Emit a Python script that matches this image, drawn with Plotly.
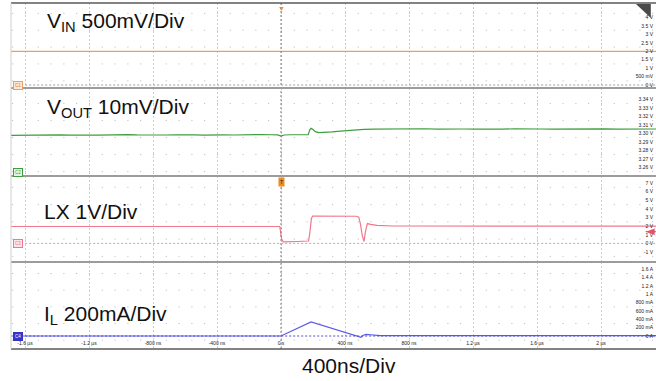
import numpy as np
import plotly.graph_objects as go
from plotly.subplots import make_subplots

# ---- waveform data (time in ns) ----
t_vin = [-1687.5, -1200, -600, 0, 600, 1200, 2343.75]
vin = [2.0, 2.0, 2.0, 2.0, 2.0, 2.0, 2.0]

t_vout = [-1687.5, -1620, -1560, -1500, -1440, -1380, -1320, -1260, -1200, -1140,
          -1080, -1020, -960, -900, -840, -780, -720, -660, -600, -540,
          -480, -420, -360, -300, -240, -180, -120, -60, -20,
          0, 20, 60, 120, 170, 180, 188, 200, 215, 235, 270,
          320, 370, 420, 470, 520, 580, 640, 700, 760, 820,
          900, 980, 1060, 1140, 1220, 1300, 1380, 1460, 1540, 1620,
          1700, 1780, 1860, 1940, 2020, 2100, 2180, 2260, 2343.75]
vout = [3.2976, 3.2979, 3.2977, 3.2981, 3.2978, 3.2982, 3.2979, 3.2983, 3.2980, 3.2978,
        3.2982, 3.2980, 3.2984, 3.2981, 3.2979, 3.2983, 3.2980, 3.2982, 3.2985, 3.2981,
        3.2979, 3.2983, 3.2982, 3.2980, 3.2984, 3.2982, 3.2985, 3.2983, 3.2981,
        3.2968, 3.2980, 3.2983, 3.2984, 3.2985, 3.3040, 3.3058, 3.3045, 3.3020, 3.3008, 3.3010,
        3.3018, 3.3027, 3.3036, 3.3042, 3.3047, 3.3050, 3.3052, 3.3046, 3.3052, 3.3051,
        3.3054, 3.3050, 3.3053, 3.3051, 3.3049, 3.3053, 3.3050, 3.3052, 3.3054, 3.3051,
        3.3049, 3.3052, 3.3055, 3.3051, 3.3053, 3.3050, 3.3052, 3.3054, 3.3051]

t_lx = [-1687.5, -600, -8, 4, 14, 100, 172, 180, 190, 198, 300,
        470, 486, 496, 508, 519, 528, 540, 560, 600, 700, 2343.75]
lx = [1.96, 1.97, 1.96, 0.5, 0.18, 0.22, 0.28, 1.2, 2.9, 3.18, 3.18,
      3.15, 3.05, 2.3, 0.9, 0.22, 1.4, 2.3, 2.2, 2.08, 2.02, 2.0]

t_il = [-1687.5, 0, 188, 500, 515, 532, 560, 620, 2343.75]
il = [0.0, 0.0, 0.34, -0.03, 0.02, 0.04, 0.03, 0.01, 0.01]

# LX trigger level (V)
lx_trigger_level = 1.36

# ---- axis ticks ----
time_ticks = [-1600, -1200, -800, -400, 0, 400, 800, 1200, 1600, 2000]
time_labels = ["-1.6 µs", "-1.2 µs", "-800 ns", "-400 ns", "0 s",
               "400 ns", "800 ns", "1.2 µs", "1.6 µs", "2 µs"]

vin_ticks = [0, 0.5, 1, 1.5, 2, 2.5, 3, 3.5, 4]
vin_labels = ["0 V", "500 mV", "1 V", "1.5 V", "2 V", "2.5 V", "3 V", "3.5 V", "4 V"]

vout_ticks = [3.26, 3.27, 3.28, 3.29, 3.30, 3.31, 3.32, 3.33, 3.34]
vout_labels = ["3.26 V", "3.27 V", "3.28 V", "3.29 V", "3.30 V",
               "3.31 V", "3.32 V", "3.33 V", "3.34 V"]

lx_ticks = [-1, 0, 1, 2, 3, 4, 5, 6, 7]
lx_labels = ["-1 V", "0 V", "1 V", "2 V", "3 V", "4 V", "5 V", "6 V", "7 V"]

il_ticks = [-0.2, 0, 0.2, 0.4, 0.6, 0.8, 1.0, 1.2, 1.4, 1.6]
il_labels = ["-200 mA", "0 A", "200 mA", "400 mA", "600 mA", "800 mA",
             "1 A", "1.2 A", "1.4 A", "1.6 A"]

# ---- styling ----
C_VIN = "#F39C5A"
C_VOUT = "#3E9E3E"
C_LX = "#F0788A"
C_IL = "#5B5BE8"
FONT = "Arial, Liberation Sans, sans-serif"

x_range = [-1687.5, 2343.75]
y_ranges = [[-0.178, 4.864], [3.2498, 3.3533], [-2.157, 7.814], [-0.312, 1.776]]
domains = [[0.7543, 1.0], [0.5, 0.7543], [0.2514, 0.5], [0.0, 0.2514]]

fig = make_subplots(rows=4, cols=1, shared_xaxes=True, vertical_spacing=0)

series = [(t_vin, vin, C_VIN), (t_vout, vout, C_VOUT), (t_lx, lx, C_LX), (t_il, il, C_IL)]
for i, (tx, vy, col) in enumerate(series, start=1):
    fig.add_trace(go.Scatter(x=tx, y=vy, mode="lines",
                             line=dict(color=col, width=1.2),
                             showlegend=False, hoverinfo="skip"), row=i, col=1)

tick_sets = [(vin_ticks, vin_labels), (vout_ticks, vout_labels),
             (lx_ticks, lx_labels), (il_ticks, il_labels)]

for i in range(4):
    xa = "xaxis" if i == 0 else f"xaxis{i + 1}"
    ya = "yaxis" if i == 0 else f"yaxis{i + 1}"
    fig.layout[xa].update(range=x_range, tickmode="array", tickvals=time_ticks,
                          ticktext=time_labels, showgrid=True, gridcolor="#cdcdcd",
                          griddash="2px,2px", gridwidth=1, zeroline=False,
                          showline=False, ticks="", showticklabels=(i == 3),
                          ticklabelposition="inside",
                          tickfont=dict(size=5, color="#222", family=FONT))
    fig.layout[ya].update(range=y_ranges[i], domain=domains[i], side="right",
                          tickmode="array", tickvals=tick_sets[i][0],
                          ticktext=tick_sets[i][1], ticklabelposition="inside",
                          showgrid=False, zeroline=False, showline=False, ticks="",
                          tickfont=dict(size=5, color="#222", family=FONT))

shapes = []

# dotted grid rows (one dot per 80 ns minor division)
grid_steps = [1.0, 0.02, 2.0, 0.4]
grid_starts = [0.25, 3.255, -1.5, -0.1]
for i in range(4):
    yref = "y" if i == 0 else f"y{i + 1}"
    for gv in np.arange(grid_starts[i], y_ranges[i][1], grid_steps[i]):
        shapes.append(dict(type="line", xref="x", yref=yref, x0=-1680, x1=x_range[1],
                           y0=gv, y1=gv, layer="below",
                           line=dict(color="#b5b5b5", width=1, dash="1px,11.8px")))

# trigger position line
shapes.append(dict(type="line", xref="x", yref="paper", x0=0, x1=0, y0=0, y1=1,
                   line=dict(color="#808080", width=1, dash="2px,2px")))

# channel ground references
for yref, col in [("y", "#9a9a9a"), ("y3", "#b0b0b0"), ("y4", "#4a4ad0")]:
    shapes.append(dict(type="line", xref="paper", yref=yref, x0=0.022, x1=1, y0=0, y1=0,
                       line=dict(color=col, width=1, dash="2px,2px")))

# panel separators and frame
for yb in [domains[0][0], domains[1][0], domains[2][0]]:
    shapes.append(dict(type="line", xref="paper", yref="paper", x0=0, x1=1, y0=yb, y1=yb,
                       line=dict(color="#9c9c9c", width=2)))
shapes.append(dict(type="line", xref="paper", yref="paper", x0=0, x1=1, y0=1, y1=1,
                   line=dict(color="#5a5a5a", width=1.5)))
shapes.append(dict(type="line", xref="paper", yref="paper", x0=0, x1=1, y0=0, y1=0,
                   line=dict(color="#5a5a5a", width=1.5)))
shapes.append(dict(type="line", xref="paper", yref="paper", x0=0, x1=0, y0=0, y1=1,
                   line=dict(color="#cfcfcf", width=1)))

# corner badge
shapes.append(dict(type="path", xref="paper", yref="paper",
                   path="M 0.969 0.997 L 0.992 0.997 L 0.992 0.957 Z",
                   fillcolor="#4a4a4a", line=dict(width=0)))

# LX trigger-level pointer on the right edge
tl = lx_trigger_level
shapes.append(dict(type="path", xref="paper", yref="y3",
                   path=f"M 0.984 {tl} L 0.998 {tl + 0.38} L 0.998 {tl - 0.38} Z",
                   fillcolor="#e8506a", line=dict(width=0)))
shapes.append(dict(type="line", xref="paper", yref="y3", x0=0.984, x1=1.0,
                   y0=tl, y1=tl, line=dict(color="#e8506a", width=1)))

fig.update_layout(shapes=shapes)

ann = []
big = dict(family=FONT, size=21, color="#111")
ann.append(dict(text="V<sub>IN</sub> 500mV/Div", xref="paper", yref="paper",
                x=0.0527, y=0.945, xanchor="left", yanchor="middle",
                showarrow=False, font=big))
ann.append(dict(text="V<sub>OUT</sub> 10mV/Div", xref="paper", yref="paper",
                x=0.0527, y=0.6965, xanchor="left", yanchor="middle",
                showarrow=False, font=big))
ann.append(dict(text="LX 1V/Div", xref="paper", yref="paper",
                x=0.048, y=0.3988, xanchor="left", yanchor="middle",
                showarrow=False, font=big))
ann.append(dict(text="I<sub>L</sub> 200mA/Div", xref="paper", yref="paper",
                x=0.048, y=0.0983, xanchor="left", yanchor="middle",
                showarrow=False, font=big))
ann.append(dict(text="400ns/Div", xref="paper", yref="paper",
                x=0.524, y=-0.049, xanchor="center", yanchor="middle",
                showarrow=False, font=big))

# channel tags
tags = [("C1", "y", 0, "#fbe6d8", C_VIN, "#e07a30"),
        ("C2", "y2", 3.2535, "#e3f3e3", C_VOUT, C_VOUT),
        ("C3", "y3", 0, "#fde4e8", C_LX, C_LX),
        ("C4", "y4", 0, "#3434c8", "#3434c8", "#ffffff")]
for name, yref, yv, bg, bc, fc in tags:
    ann.append(dict(text=name, xref="paper", yref=yref, x=0.003, y=yv,
                    xanchor="left", yanchor="middle", showarrow=False,
                    bgcolor=bg, bordercolor=bc, borderwidth=1, borderpad=1,
                    font=dict(family=FONT, size=4.5, color=fc)))

# trigger markers
ann.append(dict(text="▼", xref="x", yref="paper", x=0, y=1.0, xanchor="center",
                yanchor="top", showarrow=False,
                font=dict(family=FONT, size=7, color="#f08a24")))
ann.append(dict(text="T", xref="x", yref="paper", x=0, y=domains[2][1] - 0.004,
                xanchor="center", yanchor="top", showarrow=False,
                bgcolor="#f08a24", borderpad=1,
                font=dict(family=FONT, size=5, color="#222")))

fig.update_layout(annotations=ann)

fig.update_layout(width=656, height=381,
                  margin=dict(l=11, r=0, t=3, b=32),
                  paper_bgcolor="white", plot_bgcolor="white",
                  showlegend=False, font=dict(family=FONT))

fig.write_html("out.html")
